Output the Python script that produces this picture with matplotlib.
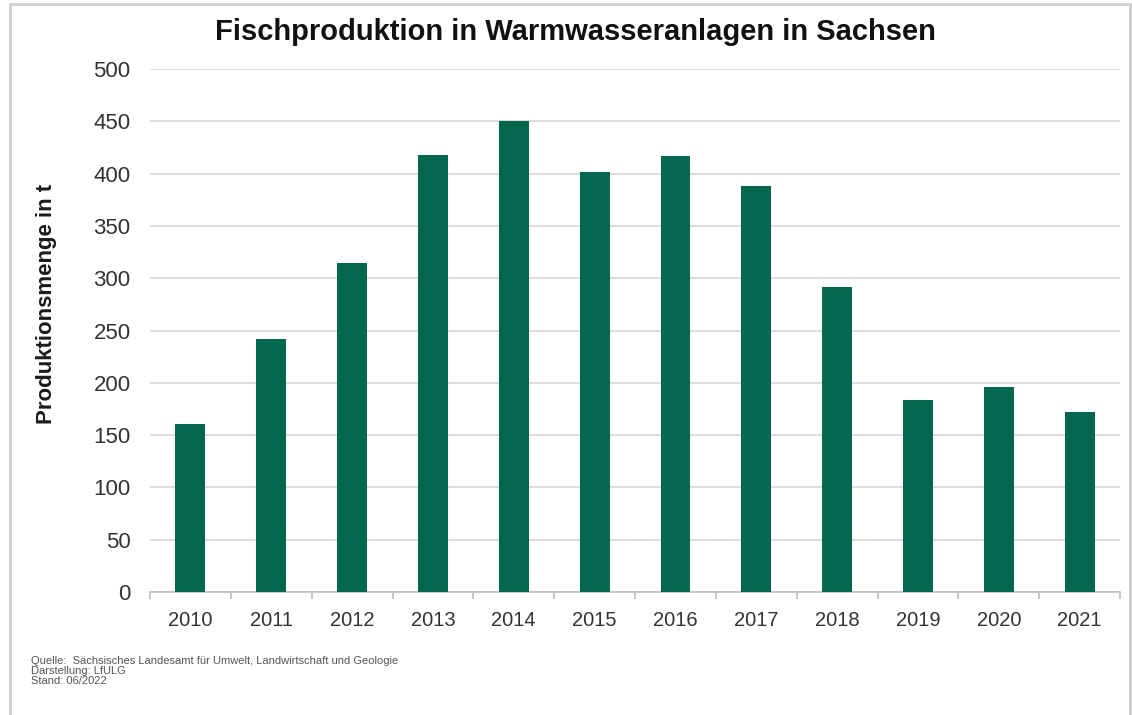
import numpy as np
import matplotlib.pyplot as plt
from matplotlib.patches import Rectangle

plt.rcParams['font.family'] = ['Liberation Sans', 'DejaVu Sans']

years = ['2010', '2011', '2012', '2013', '2014', '2015',
         '2016', '2017', '2018', '2019', '2020', '2021']
menge = [161, 242, 315, 418, 450, 402, 417, 388, 292, 184, 196, 172]

green = '#02674c'

fig = plt.figure(figsize=(11.32, 7.15), dpi=100)
ax = fig.add_axes([0.1325, 0.172, 0.857, 0.7315])

x = np.arange(len(years))
ax.bar(x, menge, width=0.37, color=green, zorder=3)

ax.set_xlim(-0.5, len(years) - 0.5)
ax.set_ylim(0, 500)
ax.set_yticks(np.arange(0, 501, 50))
ax.set_xticks(x)
ax.set_xticklabels(years)
ax.set_xticks(np.arange(-0.5, len(years), 1), minor=True)

ax.yaxis.grid(True, color='#d9d9d9', linewidth=1.3, zorder=0)
for s in ['top', 'right', 'left']:
    ax.spines[s].set_visible(False)
ax.spines['bottom'].set_color('#bfbfbf')
ax.spines['bottom'].set_linewidth(1.2)

ax.tick_params(axis='y', length=0, labelsize=16, pad=14, labelcolor='#333333')
ax.tick_params(axis='x', which='major', length=0, labelsize=14.5, pad=14,
               labelcolor='#333333')
ax.tick_params(axis='x', which='minor', length=5, color='#bfbfbf', width=1.2)

ax.set_ylabel('Produktionsmenge in t', fontsize=16, fontweight='bold',
              color='#1a1a1a')
ax.yaxis.set_label_coords(-0.096, 0.55)

fig.text(0.508, 0.955, 'Fischproduktion in Warmwasseranlagen in Sachsen',
         ha='center', va='center', fontsize=21, fontweight='bold', color='#111111')

fig.text(0.027, 0.083,
         'Quelle:  Sächsisches Landesamt für Umwelt, Landwirtschaft und Geologie\n'
         'Darstellung: LfULG\nStand: 06/2022',
         ha='left', va='top', fontsize=8, color='#555555', linespacing=1.0)

fig.patches.append(Rectangle((0.009, -0.01), 0.989, 1.005, transform=fig.transFigure,
                             fill=False, edgecolor='#cfcfcf', linewidth=2))

fig.savefig('out.png', dpi=100)
